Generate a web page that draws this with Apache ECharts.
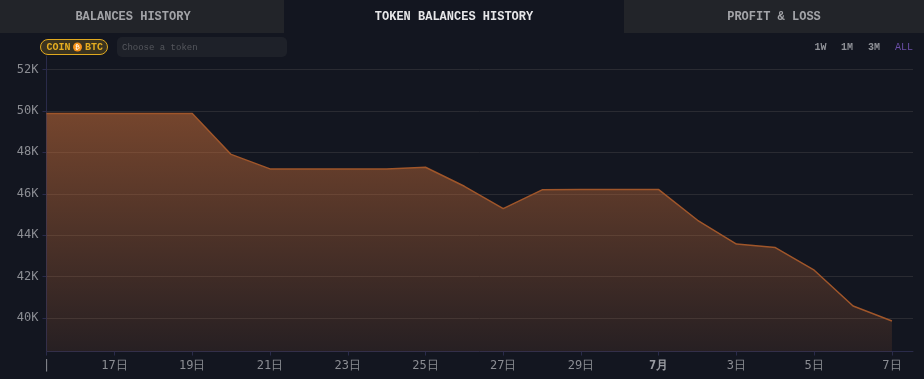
<!DOCTYPE html>
<html>
<head>
<meta charset="utf-8">
<style>
html,body{margin:0;padding:0;background:#131620;}
#main{width:924px;height:379px;}
</style>
<script src="https://cdn.jsdelivr.net/npm/echarts@6/dist/echarts.min.js"></script>
</head>
<body>
<div id="main"></div>
<script>
var dates = ['2024-06-15 06:00','2024-06-16','2024-06-17','2024-06-18','2024-06-19','2024-06-20','2024-06-21','2024-06-22','2024-06-23','2024-06-24','2024-06-25','2024-06-26','2024-06-27','2024-06-28','2024-06-29','2024-06-30','2024-07-01','2024-07-02','2024-07-03','2024-07-04','2024-07-05','2024-07-06','2024-07-07'];
var balances = [49870,49870,49870,49870,49870,47900,47200,47200,47200,47200,47280,46360,45280,46190,46210,46200,46200,44720,43570,43400,42310,40580,39860];
var tabs = ['BALANCES HISTORY','TOKEN BALANCES HISTORY','PROFIT & LOSS'];
var ranges = ['1W','1M','3M','ALL'];

var mono = '"Liberation Mono", monospace';
var axisFont = '"DejaVu Sans Mono", monospace';
var axisMin = '2024-06-15 06:00';
var axisMax = '2024-07-07 13:00';
var chart1 = echarts.init(document.getElementById('main'));

var option = {
    backgroundColor: '#131620',
    animation: false,
    grid: { left: 46.5, right: 11, top: 56, bottom: 27.5, outerBoundsMode: 'none' },
    xAxis: {
        type: 'time',
        min: axisMin,
        max: axisMax,
        splitNumber: 11,
        axisLine: { lineStyle: { color: '#2a2b4a' } },
        axisTick: { length: 4, lineStyle: { color: '#2a2b4a' } },
        splitLine: { show: false },
        axisLabel: {
            color: '#8b8d93',
            fontFamily: axisFont,
            fontSize: 12,
            margin: 8,
            interval: 0,
            showMinLabel: true,
            hideOverlap: false,
            formatter: function (value) {
                var d = new Date(value);
                if (value === +new Date(2024, 5, 15, 6)) return '|';
                if (d.getDate() === 1) return '{m|' + (d.getMonth() + 1) + '月}';
                return d.getDate() + '日';
            },
            rich: { m: { fontWeight: 'bold', color: '#9a9ca2', fontFamily: axisFont, fontSize: 12 } }
        }
    },
    yAxis: {
        type: 'value',
        min: 38385,
        max: 52650,
        splitNumber: 7,
        axisLine: { show: true, lineStyle: { color: '#2a2b4a' } },
        axisTick: { show: true, length: 4, lineStyle: { color: '#2a2b4a' } },
        splitLine: { showMinLine: false, showMaxLine: false, lineStyle: { color: '#2a2b32' } },
        axisLabel: {
            color: '#8b8d93',
            fontFamily: axisFont,
            fontSize: 12,
            margin: 8,
            showMinLabel: false,
            showMaxLabel: false,
            formatter: function (v) { return (v / 1000) + 'K'; }
        }
    },
    series: [{
        type: 'line',
        name: 'BTC',
        data: dates.map(function (d, i) { return [d, balances[i]]; }),
        showSymbol: false,
        z: 3,
        lineStyle: { color: '#a0562a', width: 1.5 },
        areaStyle: {
            opacity: 1,
            color: new echarts.graphic.LinearGradient(0, 0, 0, 1, [
                { offset: 0, color: 'rgba(214,116,58,0.5)' },
                { offset: 1, color: 'rgba(214,116,58,0.1)' }
            ])
        }
    }],
    graphic: [
        { type: 'rect', left: 0, top: 0, shape: { width: 284, height: 33 }, style: { fill: '#222429' } },
        { type: 'rect', left: 624, top: 0, shape: { width: 300, height: 33 }, style: { fill: '#222429' } },
        { type: 'text', x: 133, y: 17, style: { text: tabs[0], font: 'bold 12px ' + mono, fill: '#a3a4a8', textAlign: 'center', textVerticalAlign: 'middle' } },
        { type: 'text', x: 454, y: 17, style: { text: tabs[1], font: 'bold 12px ' + mono, fill: '#e6e6e8', textAlign: 'center', textVerticalAlign: 'middle' } },
        { type: 'text', x: 774, y: 17, style: { text: tabs[2], font: 'bold 12px ' + mono, fill: '#a3a4a8', textAlign: 'center', textVerticalAlign: 'middle' } },

        // coin badge
        { type: 'rect', x: 40.5, y: 39.5, shape: { width: 67, height: 15, r: 7.5 }, style: { fill: '#3a3320', stroke: '#e0a91f', lineWidth: 1 } },
        { type: 'text', x: 46.5, y: 47.5, style: { text: 'COIN', font: 'bold 10px ' + mono, fill: '#e5ad20', textVerticalAlign: 'middle' } },
        { type: 'circle', shape: { cx: 77.5, cy: 47, r: 4.5 }, style: { fill: '#f7931a' } },
        { type: 'text', x: 77.5, y: 47.5, style: { text: '₿', font: '7px "DejaVu Sans"', fill: '#fff', textAlign: 'center', textVerticalAlign: 'middle' } },
        { type: 'text', x: 85, y: 47.5, style: { text: 'BTC', font: 'bold 10px ' + mono, fill: '#e5ad20', textVerticalAlign: 'middle' } },

        // token input
        { type: 'rect', x: 117, y: 37, shape: { width: 170, height: 20, r: 5 }, style: { fill: '#1e2129' } },
        { type: 'text', x: 122, y: 47.5, style: { text: 'Choose a token', font: '9px ' + mono, fill: '#55575d', textVerticalAlign: 'middle' } },

        // range buttons
        { type: 'text', x: 820.5, y: 47.5, style: { text: ranges[0], font: 'bold 10px ' + mono, fill: '#8f9197', textAlign: 'center', textVerticalAlign: 'middle' } },
        { type: 'text', x: 847, y: 47.5, style: { text: ranges[1], font: 'bold 10px ' + mono, fill: '#8f9197', textAlign: 'center', textVerticalAlign: 'middle' } },
        { type: 'text', x: 874, y: 47.5, style: { text: ranges[2], font: 'bold 10px ' + mono, fill: '#8f9197', textAlign: 'center', textVerticalAlign: 'middle' } },
        { type: 'text', x: 904, y: 47.5, style: { text: ranges[3], font: '10px ' + mono, fill: '#6b4fa8', textAlign: 'center', textVerticalAlign: 'middle' } }
    ]
};

chart1.setOption(option);
</script>
</body>
</html>
